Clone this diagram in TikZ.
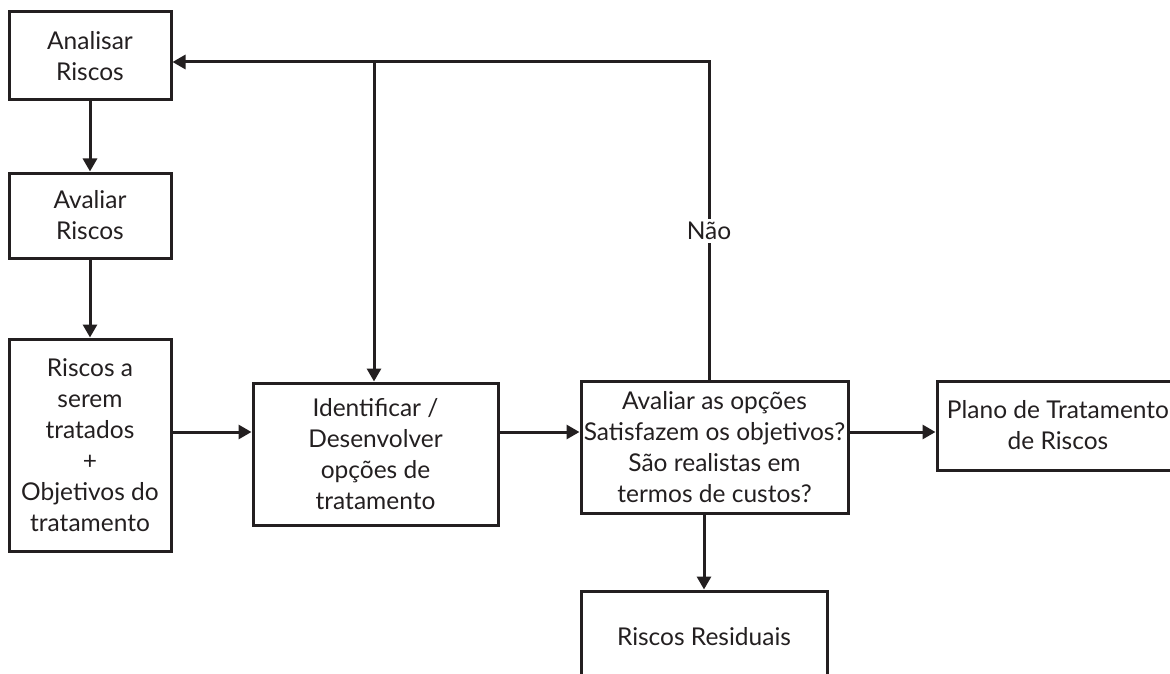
\documentclass[tikz,border=0pt]{standalone}
\usepackage{fontspec}
\setmainfont{Lato}
\usetikzlibrary{arrows.meta}
\definecolor{ink}{HTML}{231F20}
\begin{document}
\begin{tikzpicture}[x=1pt,y=1pt,
  box/.style={draw=ink,line width=3pt,text=ink,align=center,inner sep=0pt,
    font=\fontsize{24.5}{31}\selectfont},
  link/.style={draw=ink,line width=3pt},
  arr/.style={link,-{Triangle[length=13pt,width=14pt]}},
  lbl/.style={text=ink,fill=white,inner sep=3pt,font=\fontsize{24.5}{31}\selectfont}]
\useasboundingbox (0,0) rectangle (1170,-674);
\clip (0,0) rectangle (1170,-674);

% process boxes
\node[box,minimum width=162pt,minimum height=88pt] (analisar) at (90,-56) {Analisar\\Riscos};
\node[box,minimum width=162pt,minimum height=85pt] (avaliar) at (90,-215.5) {Avaliar\\Riscos};
\node[box,minimum width=162pt,minimum height=212pt] (riscos) at (90,-445) {Riscos a\\serem\\tratados\\+\\Objetivos do\\tratamento};
\node[box,minimum width=245pt,minimum height=142pt] (identificar) at (375.5,-454) {Identificar /\\Desenvolver\\opções de\\tratamento};
\node[box,minimum width=267pt,minimum height=132pt] (opcoes) at (714.5,-447) {Avaliar as opções\\Satisfazem os objetivos?\\São realistas em\\termos de custos?};
\node[box,minimum width=242pt,minimum height=89pt] (plano) at (1058,-425.5) {Plano de Tratamento\\de Riscos};
\node[box,minimum width=246pt,minimum height=92pt] (residuais) at (704,-637) {Riscos Residuais};

% feedback loop
\coordinate (turn) at (709,-62);
\coordinate (branch) at (374,-62);
\draw[link] (opcoes.north -| turn) -- node[lbl,pos=0.467]{Não} (turn) -- (branch);
\draw[arr] (branch) -- (branch -| analisar.east);
\draw[arr] (branch) -- (identificar.north -| branch);

% main flow
\draw[arr] (analisar.south) -- (avaliar.north);
\draw[arr] (avaliar.south) -- (riscos.north);
\coordinate (row) at (0,-432);
\draw[arr] (riscos.east |- row) -- (identificar.west |- row);
\draw[arr] (identificar.east |- row) -- (opcoes.west |- row);
\draw[arr] (opcoes.east |- row) -- (plano.west |- row);
\draw[arr] (opcoes.south -| residuais.north) -- (residuais.north);
\end{tikzpicture}
\end{document}
